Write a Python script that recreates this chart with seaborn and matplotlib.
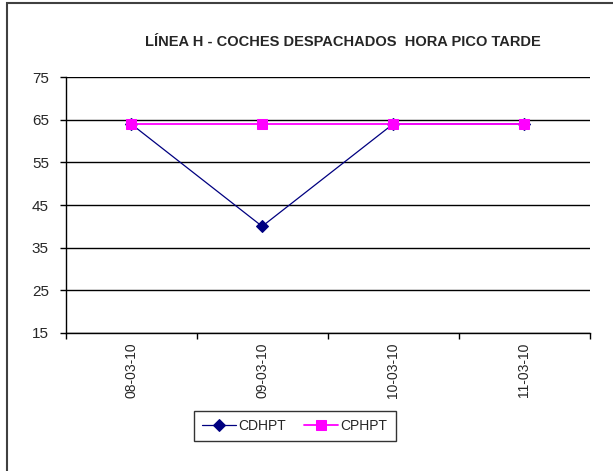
import pandas as pd
import matplotlib.pyplot as plt
import seaborn as sns
from matplotlib.patches import Rectangle

# data
fechas = ["08-03-10", "09-03-10", "10-03-10", "11-03-10"]
cdhpt = [64, 40, 64, 64]
cphpt = [64, 64, 64, 64]
y_ticks = [15, 25, 35, 45, 55, 65, 75]

df = pd.DataFrame({"fecha": fechas, "CDHPT": cdhpt, "CPHPT": cphpt})

sns.set_theme(style="white")
plt.rcParams["font.family"] = ["Liberation Sans", "DejaVu Sans"]

fig = plt.figure(figsize=(6.13, 4.71), dpi=100)
ax = fig.add_axes([0.107, 0.293, 0.855, 0.5435])

sns.lineplot(data=df, x="fecha", y="CDHPT", ax=ax, color="#000080", marker="D",
             markersize=6, linewidth=0.9, markeredgecolor="#000080", label="CDHPT")
sns.lineplot(data=df, x="fecha", y="CPHPT", ax=ax, color="#FF00FF", marker="s",
             markersize=7, linewidth=1.3, markeredgecolor="#FF00FF", label="CPHPT")

ax.set_xlim(-0.5, len(fechas) - 0.5)
ax.set_ylim(15, 75)
ax.set_yticks(y_ticks)
ax.set_yticklabels([str(t) for t in y_ticks], fontsize=11)
ax.yaxis.grid(True, color="black", linewidth=1)
ax.set_axisbelow(True)

ax.set_xticks(range(len(fechas)))
ax.set_xticklabels(fechas, rotation=90, fontsize=10)
ax.set_xticks([i - 0.5 for i in range(len(fechas) + 1)], minor=True)
ax.tick_params(axis="x", which="major", length=0, pad=7)
ax.tick_params(axis="x", which="minor", length=4, width=1, color="black", direction="out", bottom=True)
ax.tick_params(axis="y", length=4, width=1, color="black", direction="out", left=True, pad=8)
ax.set_xlabel("")
ax.set_ylabel("")

for s in ["top", "right"]:
    ax.spines[s].set_visible(False)
for s in ["left", "bottom"]:
    ax.spines[s].set_color("black")
    ax.spines[s].set_linewidth(1)

ax.set_title("LÍNEA H - COCHES DESPACHADOS  HORA PICO TARDE", fontsize=10.5,
             fontweight="bold", pad=22, x=0.53)

leg = ax.legend(loc="center", bbox_to_anchor=(0.481, 0.0955), bbox_transform=fig.transFigure,
                ncol=2, fontsize=10, frameon=True, fancybox=False, handlelength=2.4,
                columnspacing=1.3, borderpad=0.6, handletextpad=0.2)
leg.get_frame().set_edgecolor("black")
leg.get_frame().set_linewidth(1)

# outer chart border
fig.patches.append(Rectangle((7 / 613, -0.05), 1.1, 1 - 3 / 471 + 0.05, transform=fig.transFigure,
                             fill=False, edgecolor="#404040", linewidth=1.5))

fig.savefig("out.png", dpi=100)
